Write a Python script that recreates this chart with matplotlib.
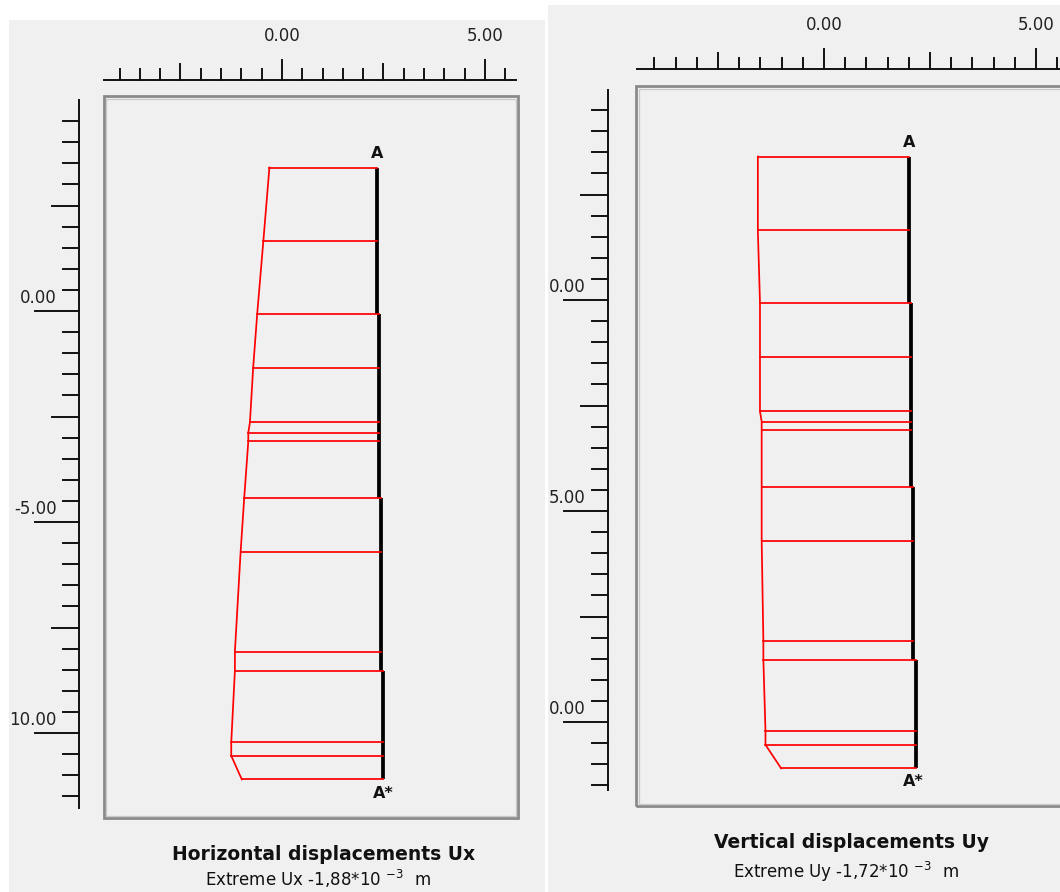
import numpy as np
import matplotlib
matplotlib.use("Agg")
import matplotlib.pyplot as plt
from matplotlib.patches import Rectangle

# node levels along the wall (m), same for both plots
node_y = [3.40, 1.65, -0.06, -1.34, -2.64, -2.88, -3.09, -4.42, -5.72,
          -8.07, -8.52, -10.22, -10.54, -11.10]
# wall is drawn in 4 pieces between these levels
wall_breaks = [3.40, -0.06, -4.42, -8.52, -11.10]

# horizontal displacements Ux: deformed line and wall x (m, plot scale)
ux_curve_x = [-0.31, -0.46, -0.61, -0.71, -0.79, -0.83, -0.83, -0.93, -1.02,
              -1.16, -1.16, -1.25, -1.25, -0.99]
ux_wall_x = [2.35, 2.40, 2.45, 2.50]

# vertical displacements Uy
uy_curve_x = [-1.56, -1.56, -1.51, -1.51, -1.51, -1.47, -1.47, -1.47, -1.47,
              -1.43, -1.43, -1.38, -1.38, -1.01]
uy_wall_x = [2.01, 2.06, 2.11, 2.16]

x_ticklabels = {0.0: "0.00", 5.0: "5.00"}
ux_y_ticklabels = {0.0: "0.00", -5.0: "-5.00", -10.0: "10.00"}
uy_y_ticklabels = {0.0: "0.00", -5.0: "5.00", -10.0: "0.00"}

titles = ["Horizontal displacements Ux", "Vertical displacements Uy"]
extremes = [r"Extreme Ux -1,88*10 $^{-3}$  m", r"Extreme Uy -1,72*10 $^{-3}$  m"]

W, H = 1060, 892
BG = "#f0f0f0"
RED = "#ff0000"
INK = "#111111"
plt.rcParams["font.family"] = ["DejaVu Sans"]
plt.rcParams["mathtext.fontset"] = "dejavusans"

fig = plt.figure(figsize=(W / 100, H / 100), dpi=100)
fig.patch.set_facecolor("white")

# per panel: screen region, pixel origin of (0,0), px per metre, ruler / box positions
panels = [
    dict(region=(9, 545, 20, 892), x0=282, sx=40.6, y0=311, sy=42.2,
         top_ruler=(80, 104, 516), left_ruler=(79, 100, 808),
         box=(104, 518, 96, 818), xlab_y=36, ylab_x=57,
         curve=ux_curve_x, wall=ux_wall_x, ylabels=ux_y_ticklabels,
         a_top=(377, 153), a_bot=(383, 793)),
    dict(region=(548, 1060, 5, 892), x0=824, sx=42.4, y0=300, sy=42.2,
         top_ruler=(69, 637, 1062), left_ruler=(608, 90, 790),
         box=(636, 1070, 86, 806), xlab_y=25, ylab_x=586,
         curve=uy_curve_x, wall=uy_wall_x, ylabels=uy_y_ticklabels,
         a_top=(909, 142), a_bot=(913, 781)),
]

for p in panels:
    l, r, t, b = p["region"]
    ax = fig.add_axes([l / W, 1 - b / H, (r - l) / W, (b - t) / H])
    fx = lambda px, p=p: (px - p["x0"]) / p["sx"]
    fy = lambda py, p=p: (p["y0"] - py) / p["sy"]
    ax.set_xlim(fx(l), fx(r))
    ax.set_ylim(fy(b), fy(t))
    ax.set_facecolor(BG)
    ax.axis("off")
    ax.add_patch(Rectangle((fx(l), fy(b)), fx(r) - fx(l), fy(t) - fy(b),
                           facecolor=BG, edgecolor="none", zorder=0))

    # top ruler
    ry, rx0, rx1 = p["top_ruler"]
    yr = fy(ry)
    ax.plot([fx(rx0), fx(rx1)], [yr, yr], color=INK, lw=1.4, zorder=3)
    for v in np.arange(-4.0, 6.0, 0.5):
        if fx(rx0) < v < fx(rx1):
            n = 20 if v % 5 == 0 else (16 if v % 2.5 == 0 else 11)
            ax.plot([v, v], [yr, yr + n / p["sy"]], color=INK, lw=1.4, zorder=3)
    for v, s in x_ticklabels.items():
        ax.text(v, fy(p["xlab_y"]), s, ha="center", va="center", fontsize=12,
                color="#222222")

    # left ruler
    rxp, ry0, ry1 = p["left_ruler"]
    xr = fx(rxp)
    ax.plot([xr, xr], [fy(ry0), fy(ry1)], color=INK, lw=1.4, zorder=3)
    for v in np.arange(-11.5, 5.0, 0.5):
        n = 44 if v % 5 == 0 else (27 if v % 2.5 == 0 else 16)
        ax.plot([xr - n / p["sx"], xr], [v, v], color=INK, lw=1.4, zorder=3)
    for v, s in p["ylabels"].items():
        ax.text(fx(p["ylab_x"]), v + 13 / p["sy"], s, ha="right", va="center",
                fontsize=12, color="#222222")

    # sunken frame: dark outer edge, light inner edge
    bl, br, bt, bb = p["box"]
    ax.add_patch(Rectangle((fx(bl), fy(bb)), fx(br) - fx(bl), fy(bt) - fy(bb),
                           facecolor="none", edgecolor="#8a8a8a", lw=2.0, zorder=2))
    ax.add_patch(Rectangle((fx(bl + 2.5), fy(bb - 2.5)), fx(br - 2.5) - fx(bl + 2.5),
                           fy(bt + 2.5) - fy(bb - 2.5),
                           facecolor="none", edgecolor="#c8c8c8", lw=0.9, zorder=2))

    # wall (plate)
    for k in range(len(p["wall"])):
        ax.plot([p["wall"][k], p["wall"][k]], [wall_breaks[k], wall_breaks[k + 1]],
                color="black", lw=2.7, solid_capstyle="butt", zorder=4)

    # deformed line and connecting lines
    ax.plot(p["curve"], node_y, color=RED, lw=1.25, zorder=5)
    inner = wall_breaks[1:-1]
    for cx, y in zip(p["curve"], node_y):
        k = sum(bk >= y for bk in inner)
        ax.plot([cx, p["wall"][k]], [y, y], color=RED, lw=1.25, zorder=5)

    ax.text(fx(p["a_top"][0]), fy(p["a_top"][1]), "A", ha="center", va="center",
            fontsize=11.5, fontweight="bold", color=INK)
    ax.text(fx(p["a_bot"][0]), fy(p["a_bot"][1]), "A*", ha="center", va="center",
            fontsize=11.5, fontweight="bold", color=INK)

fig.text(324 / W, 1 - 855 / H, titles[0], ha="center", va="center",
         fontsize=13.5, fontweight="bold", color=INK)
fig.text(318 / W, 1 - 879 / H, extremes[0], ha="center", va="center",
         fontsize=12, color=INK)
fig.text(851 / W, 1 - 843 / H, titles[1], ha="center", va="center",
         fontsize=13.5, fontweight="bold", color=INK)
fig.text(846 / W, 1 - 872 / H, extremes[1], ha="center", va="center",
         fontsize=12, color=INK)

fig.savefig("out.png", dpi=100, facecolor=fig.get_facecolor())
